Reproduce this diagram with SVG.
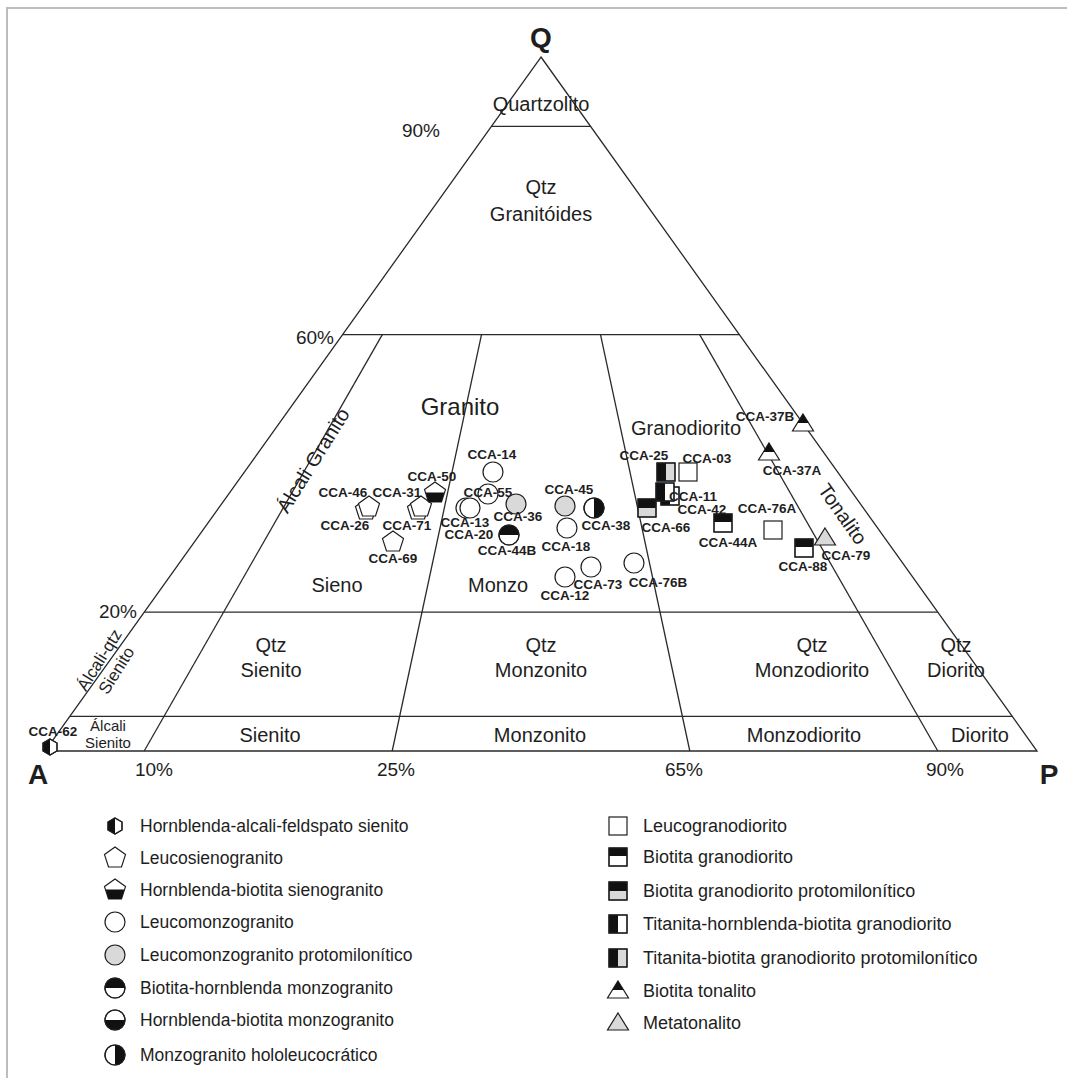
<svg xmlns="http://www.w3.org/2000/svg" width="1067" height="1078" viewBox="0 0 1067 1078">
<style>
  .ln{stroke:#2a2a2a;stroke-width:1.3;fill:none}
  .frame{stroke:#bdbdbd;stroke-width:2;fill:none}
  .reg{font-family:"Liberation Sans",Arial,sans-serif;font-size:20px;fill:#1e1e1e;text-anchor:middle}
  .pct{font-family:"Liberation Sans",Arial,sans-serif;font-size:19px;fill:#1e1e1e;text-anchor:middle}
  .sm{font-family:"Liberation Sans",Arial,sans-serif;font-size:15px;fill:#1e1e1e;text-anchor:middle}
  .apex{font-family:"Liberation Sans",Arial,sans-serif;font-size:28px;font-weight:bold;fill:#1e1e1e;text-anchor:middle}
  .lbl{font-family:"Liberation Sans",Arial,sans-serif;font-size:13.5px;font-weight:bold;fill:#1e1e1e;text-anchor:middle}
  .leg{font-family:"Liberation Sans",Arial,sans-serif;font-size:17.5px;fill:#1e1e1e}
  .legr{font-family:"Liberation Sans",Arial,sans-serif;font-size:18px;fill:#1e1e1e}
  .s{stroke:#1e1e1e;stroke-width:1.2;fill:#fff}
  .g{stroke:#1e1e1e;stroke-width:1.2;fill:#d9d9d9}
  .k{fill:#111;stroke:none}
</style>
<defs>
  <g id="hex"><polygon class="s" points="0,-8 7,-4 7,4 0,8 -7,4 -7,-4"/><polygon class="k" points="0,-8 -7,-4 -7,4 0,8"/><polygon points="0,-8 7,-4 7,4 0,8 -7,4 -7,-4" fill="none" stroke="#1e1e1e" stroke-width="1.2"/></g>
  <polygon id="pent" class="s" points="0,-11 10.5,-3.4 6.5,9 -6.5,9 -10.5,-3.4"/>
  <g id="pentHB"><polygon class="s" points="0,-11 10.5,-3.4 6.5,9 -6.5,9 -10.5,-3.4"/><polygon class="k" points="-9.3,-0.5 9.3,-0.5 6.5,9 -6.5,9"/></g>
  <circle id="c" class="s" r="10"/>
  <circle id="cg" class="g" r="10"/>
  <g id="cTop"><circle class="s" r="10"/><path class="k" d="M-10,0 A10,10 0 0 1 10,0 Z"/><circle r="10" fill="none" stroke="#1e1e1e" stroke-width="1.2"/></g>
  <g id="cBot"><circle class="s" r="10"/><path class="k" d="M-10,0 A10,10 0 0 0 10,0 Z"/><circle r="10" fill="none" stroke="#1e1e1e" stroke-width="1.2"/></g>
  <g id="cRight"><circle class="s" r="10"/><path class="k" d="M0,-10 A10,10 0 0 1 0,10 Z"/><circle r="10" fill="none" stroke="#1e1e1e" stroke-width="1.2"/></g>
  <rect id="sq" class="s" x="-9" y="-9" width="18" height="18"/>
  <g id="sqTop"><rect class="s" x="-9" y="-9" width="18" height="18"/><rect class="k" x="-9" y="-9" width="18" height="8"/><rect x="-9" y="-9" width="18" height="18" fill="none" stroke="#1e1e1e" stroke-width="1.2"/></g>
  <g id="sqTopG"><rect class="g" x="-9" y="-9" width="18" height="18"/><rect class="k" x="-9" y="-9" width="18" height="9"/><rect x="-9" y="-9" width="18" height="18" fill="none" stroke="#1e1e1e" stroke-width="1.2"/></g>
  <g id="sqLeft"><rect class="s" x="-9" y="-9" width="18" height="18"/><rect class="k" x="-9" y="-9" width="9" height="18"/><rect x="-9" y="-9" width="18" height="18" fill="none" stroke="#1e1e1e" stroke-width="1.2"/></g>
  <g id="sqLeftG"><rect class="g" x="-9" y="-9" width="18" height="18"/><rect class="k" x="-9" y="-9" width="9" height="18"/><rect x="-9" y="-9" width="18" height="18" fill="none" stroke="#1e1e1e" stroke-width="1.2"/></g>
  <g id="triTop"><polygon class="s" points="0,-10 10.5,7 -10.5,7"/><polygon class="k" points="0,-10 5.5,-1 -5.5,-1"/></g>
  <polygon id="triG" class="g" points="0,-10 10.5,7 -10.5,7"/>
</defs>
<rect width="1067" height="1078" fill="#fff"/>
<path class="frame" d="M7,1078 V8 H1067"/>

<g id="connectors">
  <polygon class="ln" points="541,57 1037,751 45,751"/>
  <line class="ln" x1="491.4" y1="126.4" x2="590.6" y2="126.4"/>
  <line class="ln" x1="342.6" y1="334.6" x2="739.4" y2="334.6"/>
  <line class="ln" x1="144.2" y1="612.2" x2="937.8" y2="612.2"/>
  <line class="ln" x1="69.8" y1="716.3" x2="1012.2" y2="716.3"/>
  <line class="ln" x1="382.3" y1="334.6" x2="144.2" y2="751"/>
  <line class="ln" x1="481.5" y1="334.6" x2="392.2" y2="751"/>
  <line class="ln" x1="600.5" y1="334.6" x2="689.8" y2="751"/>
  <line class="ln" x1="699.7" y1="334.6" x2="937.8" y2="751"/>
</g>

<g id="labels">
  <text class="apex" x="541" y="47">Q</text>
  <text class="apex" x="38" y="784">A</text>
  <text class="apex" x="1049" y="784">P</text>
  <text class="reg" x="541" y="111">Quartzolito</text>
  <text class="pct" x="421" y="137">90%</text>
  <text class="reg" x="541" y="194">Qtz</text>
  <text class="reg" x="541" y="221">Granitóides</text>
  <text class="pct" x="315" y="344">60%</text>
  <text class="pct" x="118" y="618">20%</text>
  <text class="reg" x="460" y="415" style="font-size:24px">Granito</text>
  <text class="reg" x="686" y="435">Granodiorito</text>
  <text class="reg" x="337" y="592">Sieno</text>
  <text class="reg" x="498" y="592">Monzo</text>
  <text class="reg" transform="translate(319,464) rotate(-58)">Álcali Granito</text>
  <g transform="translate(106,664) rotate(-58)"><text class="reg" style="font-size:17px" x="0" y="-2">Álcali-qtz</text><text class="reg" style="font-size:17px" x="0" y="18">Sienito</text></g>
  <text class="reg" transform="translate(837,518) rotate(55)">Tonalito</text>
  <text class="reg" x="271" y="652">Qtz</text><text class="reg" x="271" y="677">Sienito</text>
  <text class="reg" x="541" y="652">Qtz</text><text class="reg" x="541" y="677">Monzonito</text>
  <text class="reg" x="812" y="652">Qtz</text><text class="reg" x="812" y="677">Monzodiorito</text>
  <text class="reg" x="956" y="652">Qtz</text><text class="reg" x="956" y="677">Diorito</text>
  <text class="reg" x="270" y="742">Sienito</text>
  <text class="reg" x="540" y="742">Monzonito</text>
  <text class="reg" x="804" y="742">Monzodiorito</text>
  <text class="reg" x="980" y="742">Diorito</text>
  <text class="sm" x="108" y="731">Álcali</text>
  <text class="sm" x="108" y="748">Sienito</text>
  <text class="pct" x="154" y="776">10%</text>
  <text class="pct" x="396" y="776">25%</text>
  <text class="pct" x="684" y="776">65%</text>
  <text class="pct" x="945" y="776">90%</text>
</g>

<g id="samples">
  <g id="CCA-62"><use href="#hex" x="50" y="747"/><text class="lbl" x="53" y="736">CCA-62</text></g>
  <g id="CCA-46-26"><use href="#pent" x="366" y="510"/><use href="#pent" x="369" y="507"/><text class="lbl" x="343" y="497">CCA-46</text><text class="lbl" x="345" y="530">CCA-26</text></g>
  <g id="CCA-31-71"><use href="#pent" x="418" y="510"/><use href="#pent" x="421" y="507"/><text class="lbl" x="397" y="497">CCA-31</text><text class="lbl" x="407" y="530">CCA-71</text></g>
  <g id="CCA-50"><use href="#pentHB" x="435" y="493"/><text class="lbl" x="432" y="481">CCA-50</text></g>
  <g id="CCA-69"><use href="#pent" x="393" y="542"/><text class="lbl" x="393" y="563">CCA-69</text></g>
  <g id="CCA-14"><use href="#c" x="493" y="472"/><text class="lbl" x="492" y="459">CCA-14</text></g>
  <g id="CCA-13-20"><use href="#c" x="466" y="508"/><use href="#c" x="470" y="508"/><text class="lbl" x="465" y="527">CCA-13</text><text class="lbl" x="469" y="539">CCA-20</text></g>
  <g id="CCA-55"><use href="#c" x="488" y="494"/><text class="lbl" x="488" y="497">CCA-55</text></g>
  <g id="CCA-36"><use href="#cg" x="516" y="504"/><text class="lbl" x="518" y="521">CCA-36</text></g>
  <g id="CCA-44B"><use href="#cTop" x="509" y="535"/><text class="lbl" x="507" y="555">CCA-44B</text></g>
  <g id="CCA-45"><use href="#cg" x="565" y="506"/><text class="lbl" x="569" y="494">CCA-45</text></g>
  <g id="CCA-38"><use href="#cRight" x="594" y="508"/><text class="lbl" x="606" y="530">CCA-38</text></g>
  <g id="CCA-18"><use href="#c" x="567" y="528"/><text class="lbl" x="566" y="551">CCA-18</text></g>
  <g id="CCA-73"><use href="#c" x="591" y="567"/><text class="lbl" x="598" y="589">CCA-73</text></g>
  <g id="CCA-12"><use href="#c" x="565" y="577"/><text class="lbl" x="565" y="600">CCA-12</text></g>
  <g id="CCA-76B"><use href="#c" x="634" y="563"/><text class="lbl" x="658" y="587">CCA-76B</text></g>
  <g id="CCA-25"><use href="#sqLeftG" x="666" y="472"/><text class="lbl" x="644" y="460">CCA-25</text></g>
  <g id="CCA-03"><use href="#sq" x="688" y="472"/><text class="lbl" x="707" y="463">CCA-03</text></g>
  <g id="CCA-11-42"><use href="#sqLeft" x="670" y="496"/><use href="#sqLeft" x="665" y="492"/><text class="lbl" x="693" y="501">CCA-11</text><text class="lbl" x="702" y="514">CCA-42</text></g>
  <g id="CCA-66"><use href="#sqTopG" x="647" y="508"/><text class="lbl" x="666" y="532">CCA-66</text></g>
  <g id="CCA-44A"><use href="#sqTop" x="723" y="523"/><text class="lbl" x="728" y="547">CCA-44A</text></g>
  <g id="CCA-76A"><use href="#sq" x="773" y="530"/><text class="lbl" x="767" y="513">CCA-76A</text></g>
  <g id="CCA-88"><use href="#sqTop" x="804" y="548"/><text class="lbl" x="803" y="571">CCA-88</text></g>
  <g id="CCA-79"><use href="#triG" x="825" y="538"/><text class="lbl" x="846" y="560">CCA-79</text></g>
  <g id="CCA-37A"><use href="#triTop" x="769" y="453"/><text class="lbl" x="792" y="475">CCA-37A</text></g>
  <g id="CCA-37B"><use href="#triTop" x="803" y="424"/><text class="lbl" x="765" y="421">CCA-37B</text></g>
</g>

<g id="legend">
  <g><use href="#hex" x="115" y="826"/><text class="leg" x="140" y="832">Hornblenda-alcali-feldspato sienito</text></g>
  <g><use href="#pent" x="115" y="858"/><text class="leg" x="140" y="864">Leucosienogranito</text></g>
  <g><use href="#pentHB" x="115" y="890"/><text class="leg" x="140" y="896">Hornblenda-biotita sienogranito</text></g>
  <g><use href="#c" x="115" y="922"/><text class="leg" x="140" y="928">Leucomonzogranito</text></g>
  <g><use href="#cg" x="115" y="955"/><text class="leg" x="140" y="961">Leucomonzogranito protomilonítico</text></g>
  <g><use href="#cTop" x="115" y="988"/><text class="leg" x="140" y="994">Biotita-hornblenda monzogranito</text></g>
  <g><use href="#cBot" x="115" y="1020"/><text class="leg" x="140" y="1026">Hornblenda-biotita monzogranito</text></g>
  <g><use href="#cRight" x="115" y="1055"/><text class="leg" x="140" y="1061">Monzogranito hololeucocrático</text></g>
  <g><use href="#sq" x="618" y="826"/><text class="legr" x="643" y="832">Leucogranodiorito</text></g>
  <g><use href="#sqTop" x="618" y="857"/><text class="legr" x="643" y="863">Biotita granodiorito</text></g>
  <g><use href="#sqTopG" x="618" y="891"/><text class="legr" x="643" y="897">Biotita granodiorito protomilonítico</text></g>
  <g><use href="#sqLeft" x="618" y="924"/><text class="legr" x="643" y="930">Titanita-hornblenda-biotita granodiorito</text></g>
  <g><use href="#sqLeftG" x="618" y="958"/><text class="legr" x="643" y="964">Titanita-biotita granodiorito protomilonítico</text></g>
  <g><use href="#triTop" x="618" y="991"/><text class="legr" x="643" y="997">Biotita tonalito</text></g>
  <g><use href="#triG" x="618" y="1023"/><text class="legr" x="643" y="1029">Metatonalito</text></g>
</g>
</svg>
